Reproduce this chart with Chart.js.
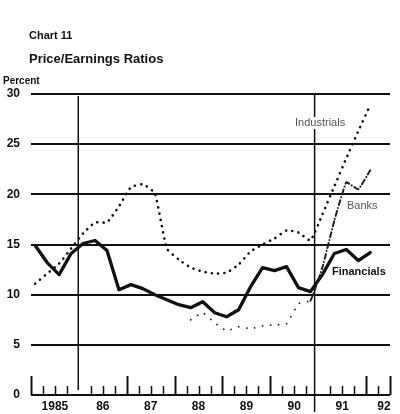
<!DOCTYPE html>
<html><head><meta charset="utf-8">
<script src="https://cdn.jsdelivr.net/npm/chart.js@4"></script>
<style>html,body{margin:0;padding:0;background:#fff}#wrap{width:400px;height:414px;position:relative}</style>
</head><body><div id="wrap"><canvas id="c" width="400" height="414"></canvas></div>
<script>
// ---- data (quarterly, 1985Q1 .. 1992Q1) ----
const yearLabels = ['1985','86','87','88','89','90','91','92'];
const quarterLabels = [
 '1985Q1','1985Q2','1985Q3','1985Q4','1986Q1','1986Q2','1986Q3','1986Q4',
 '1987Q1','1987Q2','1987Q3','1987Q4','1988Q1','1988Q2','1988Q3','1988Q4',
 '1989Q1','1989Q2','1989Q3','1989Q4','1990Q1','1990Q2','1990Q3','1990Q4',
 '1991Q1','1991Q2','1991Q3','1991Q4','1992Q1'];
const financials = [14.9,13.2,12.0,14.1,15.1,15.4,14.4,10.5,11.0,10.6,10.0,9.5,9.0,8.7,9.3,8.2,
                    7.8,8.5,10.8,12.7,12.4,12.8,10.7,10.3,12.0,14.1,14.5,13.4,14.2];
const industrials = [11.1,12.1,13.1,14.6,16.1,17.2,17.2,18.8,20.7,21.0,20.1,14.6,13.5,12.7,12.3,12.1,
                     12.2,13.0,14.3,15.0,15.6,16.4,16.2,15.4,18.0,20.8,23.6,26.3,28.9];
const banks = [null,null,null,null,null,null,null,null,null,null,null,null,null,7.5,8.2,7.2,
               6.4,6.8,6.6,6.9,7.0,7.1,9.1,9.4,12.7,17.4,21.2,20.5,22.4];
const yTicks = [0,5,10,15,20,25,30];
const seriesNames = ['Industrials','Banks','Financials'];
const eventQuarters = ['1986Q1','1990Q4'];   // vertical reference lines
const totalQuarters = 30;                    // axis runs to mid-1992

const FONT = '"Liberation Sans", Arial, Helvetica, sans-serif';
const qIndex = q => quarterLabels.indexOf(q);
const toPoints = arr => arr.map((v, i) => ({x: i + 0.35, y: v}));
const eventPos = [qIndex(eventQuarters[0]) - 0.05, qIndex(eventQuarters[1]) + 0.7];

const decor = {
  id: 'decor',
  beforeDatasetsDraw(chart) {
    const {ctx, scales: {x, y}} = chart;
    const base = y.getPixelForValue(0);
    ctx.save();
    ctx.strokeStyle = '#111';
    // axis ticks (quarters, taller at years)
    for (let q = 0; q <= totalQuarters; q++) {
      if (eventPos.some(e => Math.abs(e - q) < 0.5)) continue;
      const px = Math.round(x.getPixelForValue(q)) + 0.5;
      const major = (q % 4 === 0) || q === totalQuarters;
      ctx.lineWidth = major ? 2 : 1.5;
      ctx.beginPath();
      ctx.moveTo(px, base);
      ctx.lineTo(px, base - (major ? 19 : 9));
      ctx.stroke();
    }
    // vertical reference lines
    ctx.lineWidth = 1.5;
    const top = y.getPixelForValue(30);
    ctx.beginPath();
    ctx.moveTo(x.getPixelForValue(eventPos[0]), top + 2);
    ctx.lineTo(x.getPixelForValue(eventPos[0]), base - 5);
    ctx.moveTo(x.getPixelForValue(eventPos[1]), top + 1);
    ctx.lineTo(x.getPixelForValue(eventPos[1]), chart.height - 2);
    ctx.stroke();
    ctx.restore();
  },
  afterDatasetsDraw(chart) {
    const {ctx} = chart;
    ctx.save();
    ctx.textBaseline = 'middle';
    ctx.textAlign = 'left';
    // headings
    ctx.fillStyle = '#111';
    ctx.font = 'bold 11px ' + FONT;
    ctx.fillText('Chart 11', 29, 36);
    ctx.font = 'bold 13px ' + FONT;
    ctx.fillText('Price/Earnings Ratios', 29, 59);
    ctx.font = 'bold 10px ' + FONT;
    ctx.fillText('Percent', 3, 81);
    // series labels
    ctx.font = '11px ' + FONT;
    const w = ctx.measureText(seriesNames[0]).width;
    ctx.fillStyle = '#fff';
    ctx.fillRect(294, 117, w + 2, 12);
    ctx.fillStyle = '#555';
    ctx.fillText(seriesNames[0], 295, 123);
    ctx.fillText(seriesNames[1], 347, 206);
    ctx.fillStyle = '#111';
    ctx.font = 'bold 11px ' + FONT;
    ctx.fillText(seriesNames[2], 332, 272);
    ctx.restore();
  }
};

new Chart(document.getElementById('c'), {
  type: 'line',
  data: {
    datasets: [
      { label: seriesNames[0], data: toPoints(industrials), borderColor: '#111',
        borderWidth: 2.6, borderDash: [0.1, 6.2], borderCapStyle: 'round',
        pointRadius: 0, tension: 0.15 },
      { label: seriesNames[1], data: toPoints(banks), borderColor: '#222',
        borderWidth: 1.8, borderDash: [0.1, 8], borderCapStyle: 'round',
        pointRadius: 0, tension: 0.1, spanGaps: false,
        segment: { borderDash: c => c.p0DataIndex >= qIndex('1990Q4') ? [5, 3, 0.1, 3] : undefined,
                   borderWidth: c => c.p0DataIndex >= qIndex('1990Q4') ? 2 : undefined } },
      { label: seriesNames[2], data: toPoints(financials), borderColor: '#111',
        borderWidth: 3.3, borderJoinStyle: 'round', borderCapStyle: 'round',
        pointRadius: 0, tension: 0 }
    ]
  },
  options: {
    responsive: false,
    animation: false,
    devicePixelRatio: 1,
    layout: { padding: { top: 94, right: 10, left: 0, bottom: 0 } },
    plugins: { legend: { display: false }, tooltip: { enabled: false }, title: { display: false } },
    scales: {
      x: {
        type: 'linear', min: 0, max: totalQuarters,
        grid: { display: false, drawTicks: false },
        border: { display: false },
        afterBuildTicks: s => { s.ticks = yearLabels.map((l, i) => ({ value: Math.min(i * 4 + 2, totalQuarters - 0.5) })); },
        afterFit: s => { s.height = 19; },
        ticks: { autoSkip: false, maxRotation: 0, padding: 4, color: '#111',
                 font: { family: FONT, size: 12, weight: 'bold' },
                 callback: (v, i) => yearLabels[i] }
      },
      y: {
        min: 0, max: 30,
        afterBuildTicks: s => { s.ticks = yTicks.map(v => ({ value: v })); },
        afterFit: s => { s.width = 31; },
        grid: { color: '#111', lineWidth: 2, drawTicks: false },
        border: { display: false },
        ticks: { padding: 11, color: '#111', font: { family: FONT, size: 12, weight: 'bold' } }
      }
    }
  },
  plugins: [decor]
});
</script></body></html>
